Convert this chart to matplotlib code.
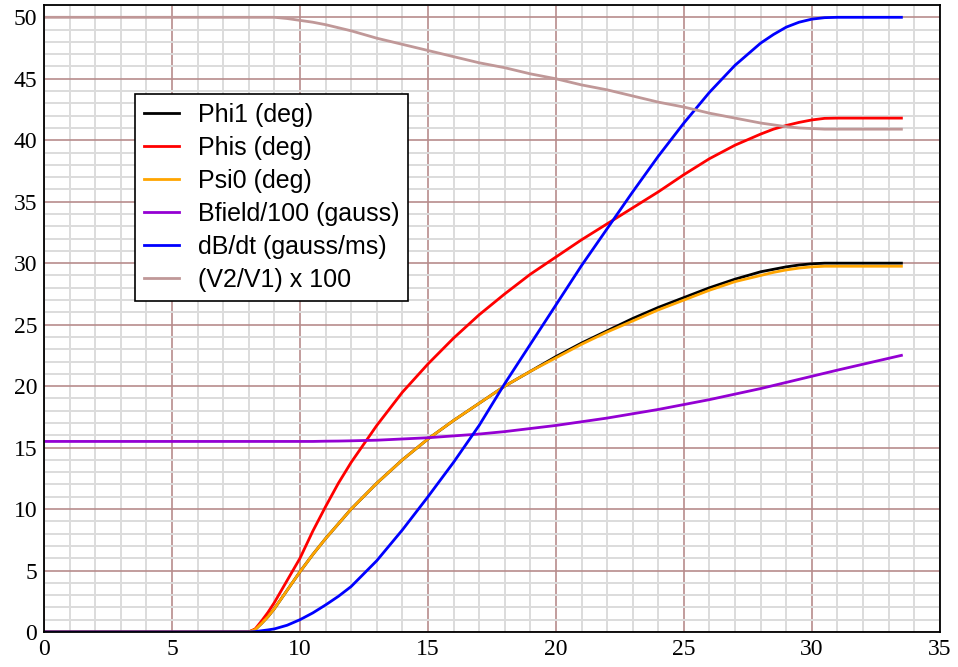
import matplotlib.pyplot as plt
from matplotlib.ticker import MultipleLocator

plt.rcParams['font.family'] = ['Liberation Serif', 'DejaVu Serif']

# time axis (x values)
x = [0, 8, 8.25, 8.5, 8.75, 9, 9.5, 10, 10.5, 11, 11.5, 12, 13, 14, 15, 16, 17,
     18, 19, 20, 21, 22, 23, 24, 25, 26, 27, 28, 28.5, 29, 29.5, 30, 30.5, 31, 33.5]

phi1 = [0, 0, 0.2, 0.7, 1.25, 1.9, 3.4, 4.9, 6.3, 7.6, 8.8, 10.0, 12.1, 14.0, 15.7,
        17.2, 18.6, 20.0, 21.2, 22.4, 23.5, 24.5, 25.5, 26.4, 27.2, 28.0, 28.7,
        29.3, 29.5, 29.7, 29.85, 29.95, 30.0, 30.0, 30.0]
phis = [0, 0, 0.25, 0.9, 1.6, 2.4, 4.2, 6.0, 8.2, 10.2, 12.1, 13.8, 16.8, 19.5,
        21.8, 23.9, 25.8, 27.5, 29.1, 30.5, 31.9, 33.2, 34.5, 35.8, 37.2, 38.5,
        39.6, 40.5, 40.9, 41.2, 41.45, 41.65, 41.78, 41.8, 41.8]
psi0 = [0, 0, 0.2, 0.7, 1.25, 1.9, 3.4, 4.9, 6.3, 7.6, 8.8, 10.0, 12.1, 14.0, 15.7,
        17.2, 18.6, 20.0, 21.2, 22.3, 23.4, 24.4, 25.3, 26.2, 27.0, 27.8, 28.5,
        29.0, 29.25, 29.45, 29.6, 29.7, 29.75, 29.75, 29.75]
bfield = [15.5, 15.5, 15.5, 15.5, 15.5, 15.5, 15.5, 15.5, 15.5, 15.52, 15.53,
          15.55, 15.6, 15.7, 15.8, 15.95, 16.1, 16.3, 16.55, 16.8, 17.1, 17.4,
          17.75, 18.1, 18.5, 18.9, 19.35, 19.8, 20.05, 20.3, 20.55, 20.8, 21.05,
          21.3, 22.5]
dbdt = [0, 0, 0.03, 0.1, 0.17, 0.25, 0.55, 1.0, 1.55, 2.2, 2.9, 3.7, 5.8, 8.3,
        11.0, 13.8, 16.8, 20.2, 23.4, 26.6, 29.8, 32.8, 35.8, 38.7, 41.4, 43.9,
        46.1, 47.9, 48.6, 49.2, 49.6, 49.85, 49.97, 50.0, 50.0]
ratio = [50, 50, 50, 50, 50, 50, 49.9, 49.75, 49.6, 49.4, 49.15, 48.9, 48.3, 47.8,
         47.3, 46.8, 46.3, 45.9, 45.4, 45.0, 44.5, 44.1, 43.6, 43.1, 42.7, 42.2,
         41.8, 41.4, 41.25, 41.1, 41.0, 40.95, 40.9, 40.9, 40.9]

fig = plt.figure(figsize=(9.58, 6.67), dpi=100)
ax = fig.add_axes([0.046, 0.0525, 0.935, 0.94])

lw = 2.0
ax.plot(x, phi1, color='black', lw=lw, label='Phi1 (deg)')
ax.plot(x, phis, color='red', lw=lw, label='Phis (deg)')
ax.plot(x, psi0, color='orange', lw=lw, label='Psi0 (deg)')
ax.plot(x, bfield, color='darkviolet', lw=lw, label='Bfield/100 (gauss)')
ax.plot(x, dbdt, color='blue', lw=lw, label='dB/dt (gauss/ms)')
ax.plot(x, ratio, color='#c09898', lw=lw, label='(V2/V1) x 100')

ax.set_xlim(0, 35)
ax.set_ylim(0, 51)
ax.xaxis.set_major_locator(MultipleLocator(5))
ax.yaxis.set_major_locator(MultipleLocator(5))
ax.xaxis.set_minor_locator(MultipleLocator(1))
ax.yaxis.set_minor_locator(MultipleLocator(1))
ax.grid(True, which='major', color='#b88c8c', lw=1.2)
ax.grid(True, which='minor', color='#dcdcdc', lw=1.4)
ax.set_axisbelow(True)
ax.tick_params(which='both', length=0, labelsize=17, pad=5,
               labelfontfamily='Liberation Serif')
for s in ax.spines.values():
    s.set_linewidth(1.3)

leg = ax.legend(loc='upper left', bbox_to_anchor=(0.1016, 0.858),
                prop={'family': 'Liberation Sans', 'size': 18},
                fancybox=False, framealpha=1, edgecolor='black',
                borderaxespad=0, handlelength=1.4, handletextpad=0.75,
                labelspacing=0.36, borderpad=0.35)
leg.get_frame().set_linewidth(1.2)

plt.savefig('out.png', dpi=100)
